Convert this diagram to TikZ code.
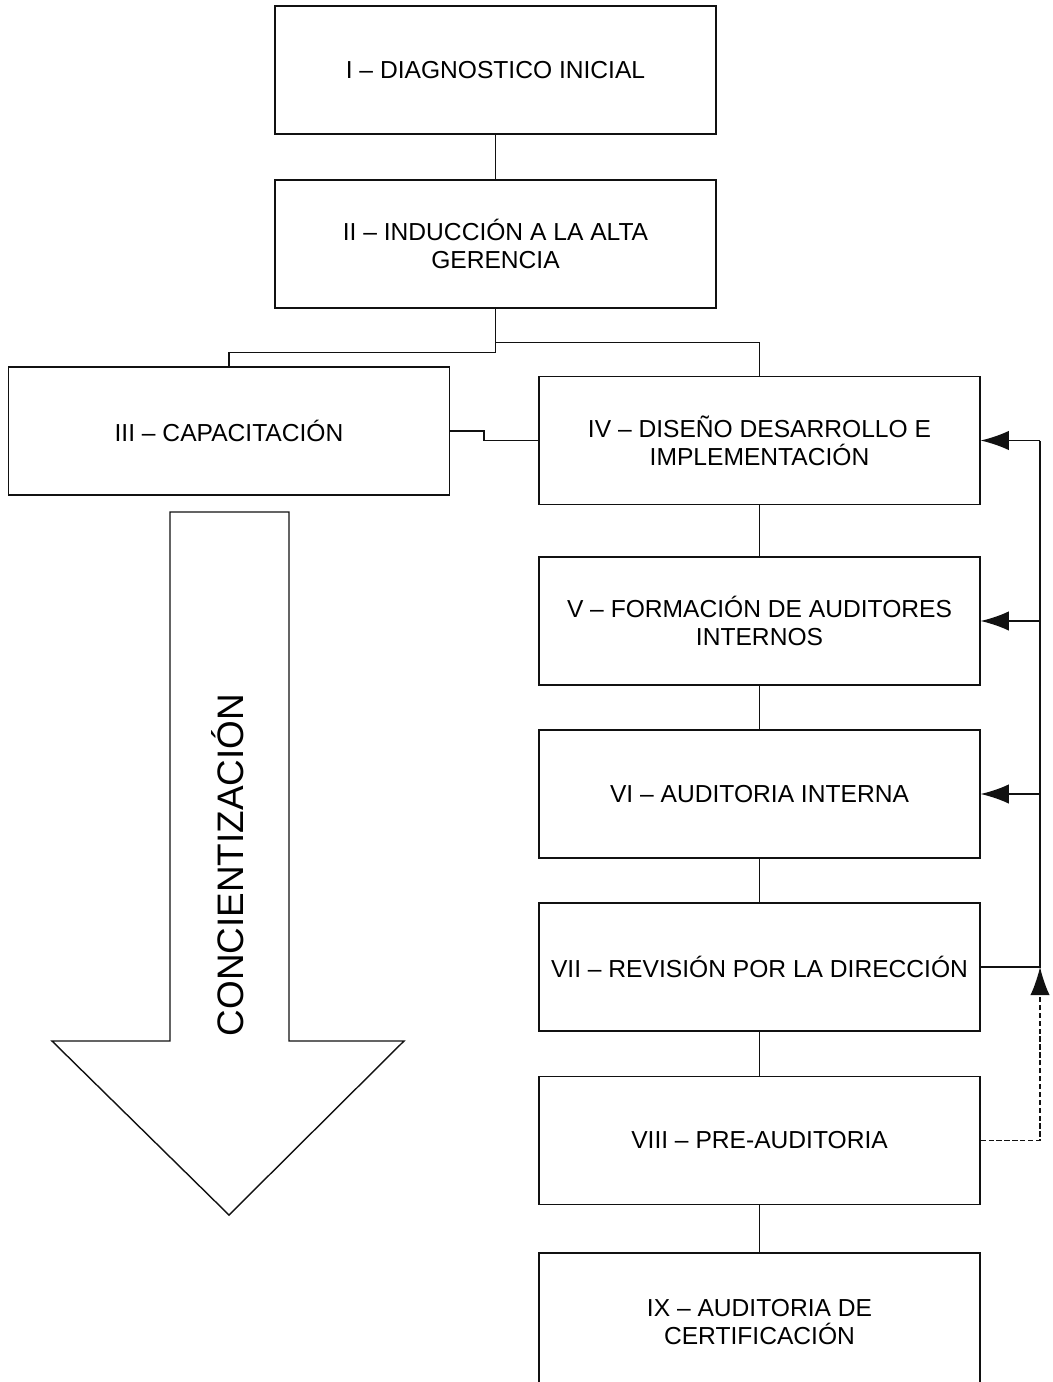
\documentclass[tikz,border=0pt]{standalone}
\usepackage{fontspec}
\setmainfont{Liberation Sans}
\usetikzlibrary{arrows.meta}
\definecolor{FlowLine}{HTML}{111111}

\tikzset{
  stage/.style={draw=FlowLine,line width=0.8pt,minimum width=8.82cm,minimum height=2.56cm,
    inner sep=0pt,align=center,font=\fontsize{14}{16}\selectfont},
  link/.style={draw=FlowLine,line width=0.8pt},
  back/.style={link,-{Latex[length=16pt,width=11pt]}},
  backdash/.style={back,dash pattern=on 3pt off 1.5pt}
}

\begin{document}
\begin{tikzpicture}[x=0.02cm,y=-0.02cm]
\path[use as bounding box] (0,0) rectangle (1053,1382);
% stages
\node[stage] (diag) at (495.5,70) {I -- DIAGNOSTICO INICIAL};
\node[stage] (induc) at (495.5,244) {II -- INDUCCIÓN A LA ALTA\\GERENCIA};
\node[stage] (capac) at (229,431) {III -- CAPACITACIÓN};
\node[stage] (disen) at (759.5,440.5) {IV -- DISEÑO DESARROLLO E\\IMPLEMENTACIÓN};
\node[stage] (forma) at (759.5,621) {V -- FORMACIÓN DE AUDITORES\\INTERNOS};
\node[stage] (audit) at (759.5,794) {VI -- AUDITORIA INTERNA};
\node[stage] (revis) at (759.5,967) {VII -- REVISIÓN POR LA DIRECCIÓN};
\node[stage] (preau) at (759.5,1140.5) {VIII -- PRE-AUDITORIA};
\node[stage,minimum height=2.76cm] (certi) at (759.5,1322) {IX -- AUDITORIA DE\\CERTIFICACIÓN};
% tree links
\draw[link] (diag) -- (induc);
\draw[link] (induc.south) -- ++(0,44) -| (capac.north);
\draw[link] (induc.south) ++(0,34) -| (disen.north);
\draw[link] (capac.east) -- ++(34,0) |- (disen.west);
\draw[link] (disen) -- (forma);
\draw[link] (forma) -- (audit);
\draw[link] (audit) -- (revis);
\draw[link] (revis) -- (preau);
\draw[link] (preau) -- (certi);
% feedback loop
\coordinate (fbtop) at (1040,440.5);
\coordinate (fbbot) at (1040,967);
\draw[link] (revis.east) -- (fbbot) -- (fbtop);
\draw[back] (fbtop) -- (disen.east);
\draw[back] (forma.east -| fbtop) -- (forma.east);
\draw[back] (audit.east -| fbtop) -- (audit.east);
\draw[backdash] (preau.east) -| (fbbot);
% awareness arrow
\draw[link] (170,512) -- (289,512) -- (289,1041) -- (404,1041) -- (229,1215)
  -- (52,1041) -- (170,1041) -- cycle;
\node[rotate=90,anchor=base,inner sep=0pt,font=\fontsize{21}{24}\selectfont] (conc)
  at (243,865) {CONCIENTIZACIÓN};
\end{tikzpicture}
\end{document}
